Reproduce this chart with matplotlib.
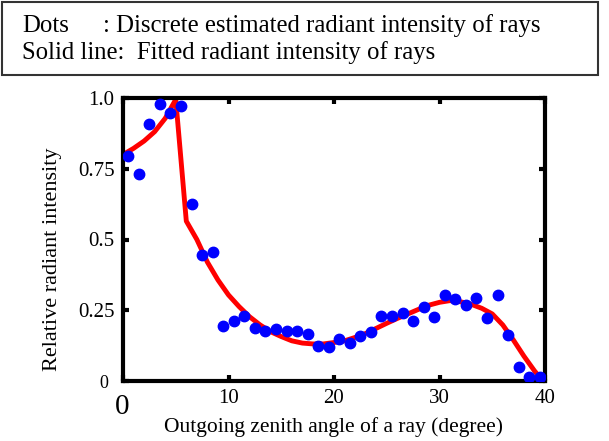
import matplotlib
matplotlib.use("Agg")
import matplotlib.pyplot as plt
from matplotlib.patches import Rectangle

# discrete estimated intensity (dots)
dot_angles = [i + 0.5 for i in range(40)]
dot_values = [0.795, 0.733, 0.909, 0.978, 0.946, 0.973, 0.624, 0.445, 0.456, 0.194,
              0.213, 0.229, 0.187, 0.175, 0.185, 0.178, 0.175, 0.166, 0.123, 0.120,
              0.150, 0.136, 0.159, 0.174, 0.230, 0.231, 0.239, 0.212, 0.263, 0.226,
              0.304, 0.291, 0.269, 0.292, 0.221, 0.305, 0.164, 0.051, 0.014, 0.014]

# fitted curve (solid line)
fit_angles = [0, 1, 2, 3, 4, 5, 6, 7, 8, 9, 10, 11, 12, 13, 14, 15, 16, 17, 18, 19,
              20, 21, 22, 23, 24, 25, 26, 27, 28, 29, 30, 31, 32, 33, 34, 35, 36, 37,
              38, 39, 39.8]
fit_values = [0.80, 0.822, 0.848, 0.881, 0.928, 0.995, 0.565, 0.50, 0.42, 0.357,
              0.304, 0.263, 0.227, 0.198, 0.174, 0.157, 0.142, 0.134, 0.131, 0.131,
              0.136, 0.142, 0.154, 0.168, 0.186, 0.204, 0.221, 0.237, 0.253, 0.268,
              0.278, 0.284, 0.28, 0.271, 0.257, 0.237, 0.198, 0.145, 0.088, 0.036, 0.0]

plt.rcParams['font.family'] = ['Liberation Serif', 'DejaVu Serif']

fig = plt.figure(figsize=(6.09, 4.41), dpi=100)
ax = fig.add_axes([123 / 609, 1 - 381 / 441, 422 / 609, 283 / 441])

ax.plot(fit_angles, fit_values, color='red', linewidth=3.5, zorder=2)
ax.plot(dot_angles, dot_values, 'o', color='blue', markersize=7.5, zorder=3)

ax.set_xlim(0, 40)
ax.set_ylim(0, 1.0)
ax.set_xticks([0, 10, 20, 30, 40])
ax.set_xticklabels(['', '10', '20', '30', '40'], fontsize=15)
ax.set_yticks([0, 0.25, 0.5, 0.75, 1.0])
ax.set_yticklabels(['', '0.25', '0.5', '0.75', '1.0'], fontsize=15)
ax.tick_params(direction='in', top=True, right=True, length=4, width=3, pad=6)
for s in ax.spines.values():
    s.set_linewidth(3)

# odd-sized zero labels as in original
fig.text(104 / 609, 1 - 383 / 441, '0', fontsize=13, ha='center', va='center')
fig.text(122 / 609, 1 - 407 / 441, '0', fontsize=21, ha='center', va='center')

ax.set_xlabel('Outgoing zenith angle of a ray (degree)', fontsize=15.5, labelpad=6)
ax.set_ylabel('Relative radiant intensity', fontsize=16)
ax.yaxis.set_label_coords(-0.145, 0.43)

# header box
fig.patches.append(Rectangle((2 / 609, 1 - 75 / 441), 596 / 609, 73 / 441,
                             transform=fig.transFigure, fill=False,
                             edgecolor='#333333', linewidth=1.5))
fig.text(22 / 609, 1 - 26 / 441, 'Dots', fontsize=17.8, va='center')
fig.text(103 / 609, 1 - 26 / 441, ': Discrete estimated radiant intensity of rays',
         fontsize=17.8, va='center')
fig.text(22 / 609, 1 - 53 / 441, 'Solid line:  Fitted radiant intensity of rays',
         fontsize=17.8, va='center')

fig.savefig('out.png', dpi=100)
